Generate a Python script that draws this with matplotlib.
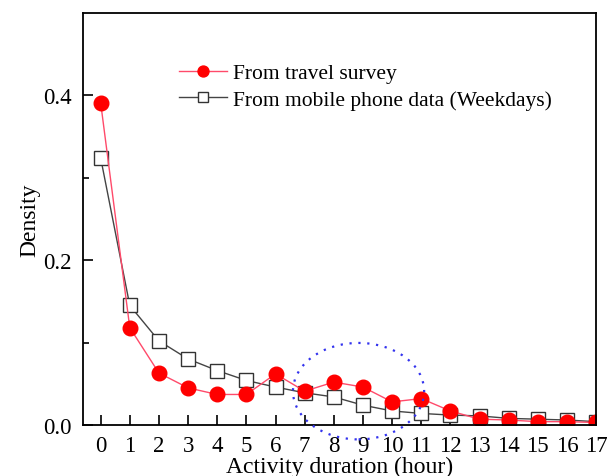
import numpy as np
import matplotlib.pyplot as plt
from matplotlib.patches import Ellipse

# activity duration (hour)
hours = list(range(18))
# density
survey = [0.391, 0.118, 0.063, 0.045, 0.037, 0.037, 0.062, 0.041, 0.052, 0.046,
          0.028, 0.032, 0.017, 0.007, 0.006, 0.004, 0.004, 0.003]
mobile = [0.324, 0.145, 0.102, 0.080, 0.066, 0.054, 0.046, 0.039, 0.034, 0.024,
          0.017, 0.014, 0.012, 0.011, 0.008, 0.007, 0.006, 0.004]
yticks = [0.0, 0.2, 0.4]

plt.rcParams['font.family'] = ['Liberation Serif', 'DejaVu Serif']

fig = plt.figure(figsize=(6.07, 4.77), dpi=100)
ax = fig.add_axes([0.137, 0.107, 0.845, 0.864])

ax.plot(hours, mobile, color='#444444', lw=1.0, marker='s', ms=10,
        mfc='white', mec='#333333', mew=1.0, label='From mobile phone data (Weekdays)')
ax.plot(hours, survey, color='#ff4a6a', lw=1.0, marker='o', ms=10.5,
        mfc='#ff0000', mec='#ff0000', label='From travel survey')

# dotted ellipse around the 7-11 h bump
ell = Ellipse((8.85, 0.041), 4.5, 0.117, fill=False, ec='#3333ee', ls=(0, (1, 3)),
              lw=1.6, clip_on=False, zorder=5)
ax.add_patch(ell)

ax.set_xlim(-0.6, 17)
ax.set_ylim(0, 0.5)
ax.set_xticks(hours)
ax.set_yticks(yticks)
ax.set_yticks([0.1, 0.3], minor=True)
ax.set_yticklabels(['0.0', '0.2', '0.4'])
ax.tick_params(axis='both', which='both', direction='in', labelsize=16.5, width=1.2)
ax.tick_params(axis='both', which='major', length=7)
ax.tick_params(axis='y', which='minor', length=4)
ax.tick_params(axis='x', pad=7)
ax.tick_params(axis='y', pad=8)
for s in ax.spines.values():
    s.set_linewidth(1.3)

ax.set_xlabel('Activity duration (hour)', fontsize=17, labelpad=0)
ax.set_ylabel('Density', fontsize=17, labelpad=2)

h, l = ax.get_legend_handles_labels()
ax.legend(h[::-1], l[::-1], loc='upper left', bbox_to_anchor=(0.15, 0.925), frameon=False,
          fontsize=15.5, handlelength=2.2, handletextpad=0.3, labelspacing=0.3,
          markerscale=0.75)

plt.savefig('out.png', dpi=100)
